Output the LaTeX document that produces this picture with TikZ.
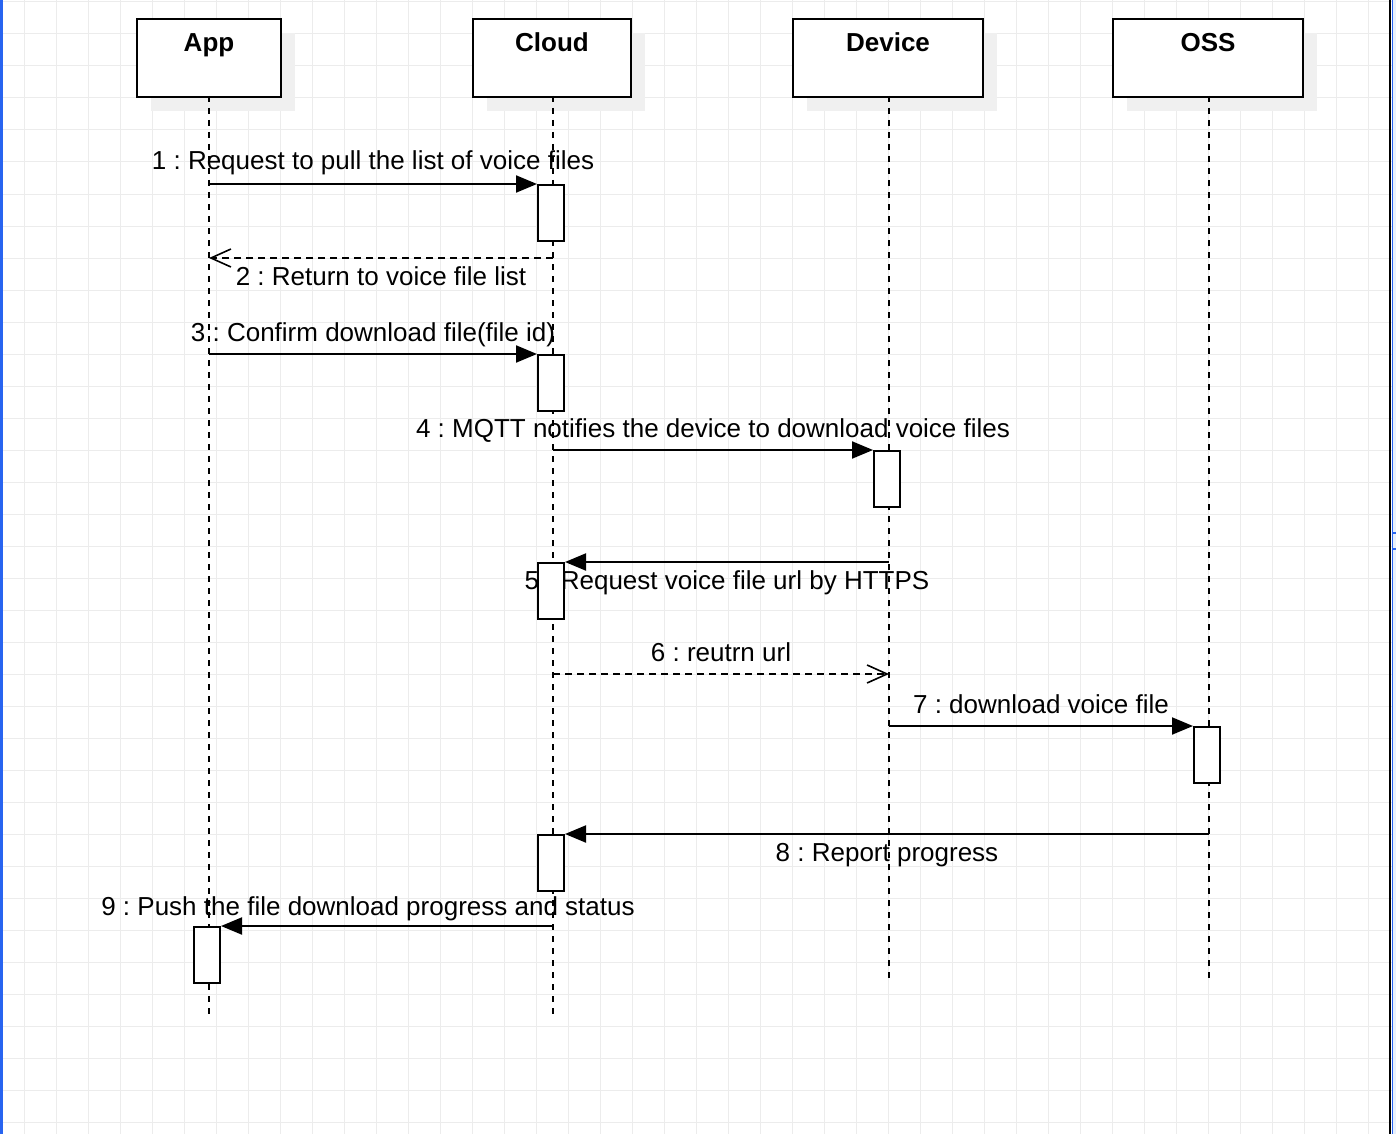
\documentclass[tikz,border=0pt]{standalone}
\usepackage{fontspec}
\setmainfont{Liberation Sans}
\usetikzlibrary{arrows.meta,positioning,shadows}

\pgfdeclarelayer{grid}
\pgfdeclarelayer{heads}
\pgfdeclarelayer{wire}
\pgfsetlayers{grid,heads,wire,main}

\definecolor{gridgray}{RGB}{236,236,236}
\definecolor{edgeblue}{RGB}{40,100,240}
\definecolor{paleblue}{RGB}{232,240,252}

\frenchspacing
\begin{document}
\begin{tikzpicture}[
    x=1pt, y=-1pt,
    font=\fontsize{26}{31}\selectfont,
    head/.style={draw, line width=2pt, fill=white, anchor=north, minimum width=#1,
        font=\fontsize{26}{31}\selectfont\bfseries, inner sep=0pt, text height=33pt, text depth=45pt,
        drop shadow={shadow xshift=14pt, shadow yshift=-14pt, fill=black!6, opacity=1}},
    act/.style={draw, line width=2pt, fill=white, anchor=north, xshift=-2pt, minimum width=26pt, minimum height=56pt, inner sep=0pt},
    lifeline/.style={line width=1.6pt, dash pattern=on 6pt off 6pt},
    call/.style={line width=2pt, -{Triangle[length=21pt, width=17pt]}},
    reply/.style={line width=1.6pt, dash pattern=on 7pt off 5pt, -{Straight Barb[length=20pt, width=18pt, line width=1.6pt]}},
    msg/.style={anchor=base, inner sep=0pt},
    gridline/.style={gridgray, line width=1pt}
]
\useasboundingbox (0,0) rectangle (1396,1134);

% heads
\begin{pgfonlayer}{heads}
\node[head=144pt] (app) at (209,18) {App};
\node[head=158pt] (cloud) at (552,18) {Cloud};
\node[head=190pt] (device) at (888,18) {Device};
\node[head=190pt] (oss) at (1208,18) {OSS};
\end{pgfonlayer}

% activations
\node[act] (act1) at (553,184) {};
\node[act] (act3) at (553,354) {};
\node[act] (act4) at (889,450) {};
\node[act] (act5) at (553,562) {};
\node[act] (act7) at (1209,726) {};
\node[act] (act8) at (553,834) {};
\node[act] (act9) at (209,926) {};

\coordinate (appTop) at (209,96);
\coordinate (cloudTop) at (553,96);
\coordinate (deviceTop) at (889,96);
\coordinate (ossTop) at (1209,96);
\coordinate (appEnd) at (209,1014);
\coordinate (cloudEnd) at (553,1014);
\coordinate (deviceEnd) at (889,978);
\coordinate (ossEnd) at (1209,978);
\coordinate (r2) at (553,258);
\coordinate (r6) at (553,674);

\begin{pgfonlayer}{grid}
\fill[white] (0,0) rectangle (1396,1134);
\foreach \gx in {24,56,...,1384}
    \draw[gridline] (\gx,0) -- (\gx,1134);
\foreach \gy in {2,34,...,1130}
    \draw[gridline] (0,\gy) -- (1396,\gy);
\draw[edgeblue, line width=2.5pt] (1.25,0) -- (1.25,1134);
\fill[paleblue] (1393,0) rectangle (1396,1134);
\draw[edgeblue, line width=1.5pt] (1392.5,0) -- (1392.5,1134);
\draw[black, line width=2pt] (1390,0) -- (1390,1134);
\draw[edgeblue, line width=1.5pt] (1392,533) -- (1396,533);
\draw[edgeblue, line width=1.5pt] (1392,549) -- (1396,549);
\end{pgfonlayer}

\begin{pgfonlayer}{wire}
\draw[lifeline] (appTop) -- (appEnd);
\draw[lifeline] (cloudTop) -- (cloudEnd);
\draw[lifeline] (deviceTop) -- (deviceEnd);
\draw[lifeline] (ossTop) -- (ossEnd);

\draw[call] (appTop |- act1.north west) -- (act1.north west)
    node[msg, midway, yshift=14pt] {1 : Request to pull the list of voice files};
\draw[reply] (r2) -- (appTop |- r2)
    node[msg, midway, yshift=-27pt] {2 : Return to voice file list};
\draw[call] (appTop |- act3.north west) -- (act3.north west)
    node[msg, midway, yshift=13pt] {3 : Confirm download file(file id)};
\draw[call] (cloudTop |- act4.north west) -- (act4.north west)
    node[msg, midway, yshift=13pt] {4 : MQTT notifies the device to download voice files};
\draw[call] (deviceTop |- act5.north east) -- (act5.north east)
    node[msg, midway, yshift=-27pt] {5 : Request voice file url by HTTPS};
\draw[reply] (r6) -- (deviceTop |- r6)
    node[msg, midway, yshift=13pt] {6 : reutrn url};
\draw[call] (deviceTop |- act7.north west) -- (act7.north west)
    node[msg, midway, yshift=13pt] {7 : download voice file};
\draw[call] (ossTop |- act8.north east) -- (act8.north east)
    node[msg, midway, yshift=-27pt] {8 : Report progress};
\draw[call] (cloudTop |- act9.north east) -- (act9.north east)
    node[msg, midway, yshift=11pt, xshift=-19pt] {9 : Push the file download progress and status};
\end{pgfonlayer}
\end{tikzpicture}
\end{document}
